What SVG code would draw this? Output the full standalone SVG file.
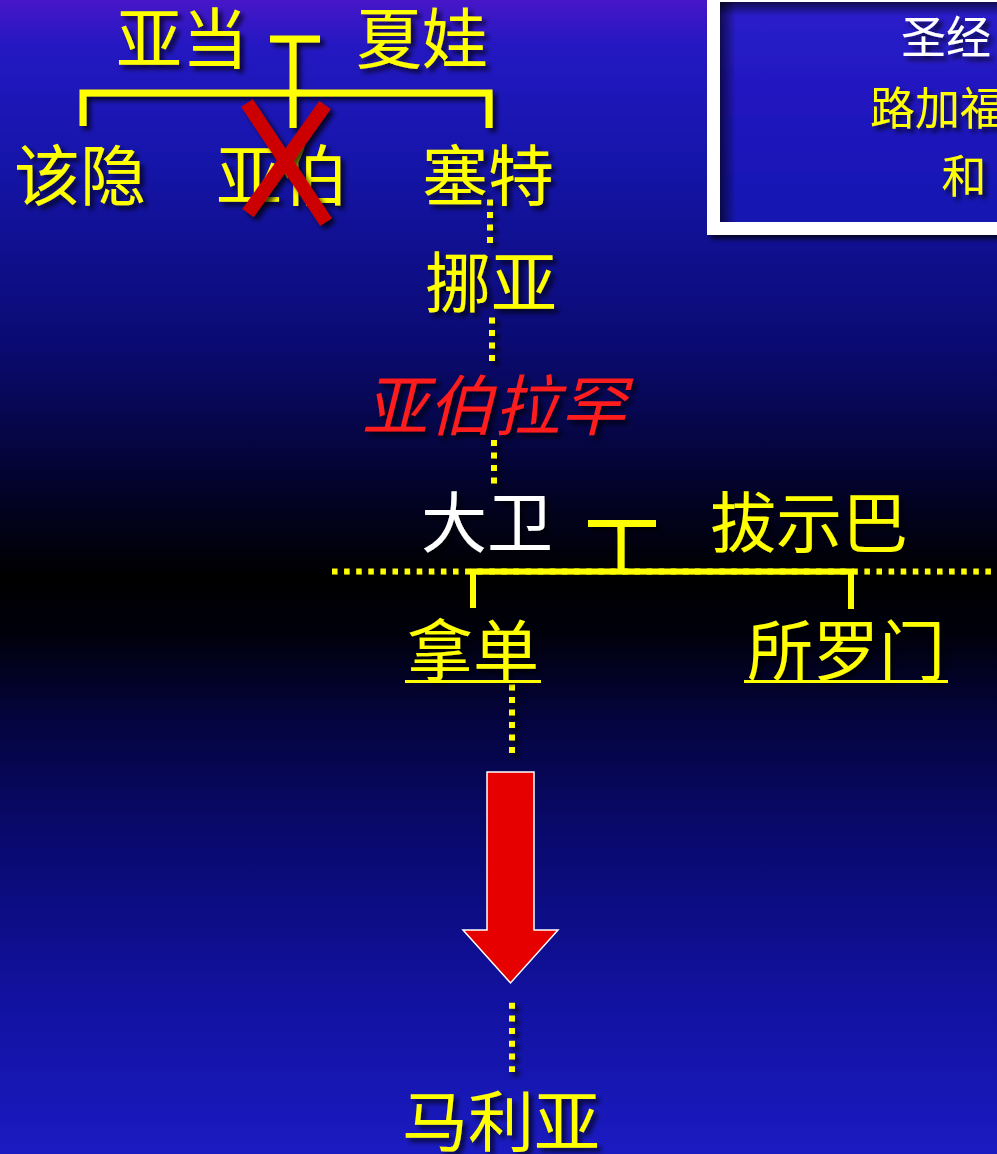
<svg xmlns="http://www.w3.org/2000/svg" width="997" height="1154" viewBox="0 0 997 1154">
  <defs>
    <linearGradient id="bg" x1="0" y1="0" x2="0" y2="1">
      <stop offset="0" stop-color="#4716c8"/>
      <stop offset="0.04" stop-color="#2418c2"/>
      <stop offset="0.14" stop-color="#1515aa"/>
      <stop offset="0.3" stop-color="#0a0a72"/>
      <stop offset="0.42" stop-color="#03032c"/>
      <stop offset="0.5" stop-color="#000000"/>
      <stop offset="0.55" stop-color="#00000c"/>
      <stop offset="0.62" stop-color="#04043c"/>
      <stop offset="0.72" stop-color="#09096c"/>
      <stop offset="0.86" stop-color="#11119e"/>
      <stop offset="1" stop-color="#1b1bc2"/>
    </linearGradient>
    <linearGradient id="boxfill" x1="0" y1="0" x2="0" y2="1">
      <stop offset="0" stop-color="#2c1ccc"/>
      <stop offset="1" stop-color="#1414b0"/>
    </linearGradient>
    <linearGradient id="shadeL" x1="0" y1="0" x2="1" y2="0">
      <stop offset="0" stop-color="#000" stop-opacity="0.6"/>
      <stop offset="1" stop-color="#000" stop-opacity="0"/>
    </linearGradient>
    <linearGradient id="shadeT" x1="0" y1="0" x2="0" y2="1">
      <stop offset="0" stop-color="#000" stop-opacity="0.6"/>
      <stop offset="1" stop-color="#000" stop-opacity="0"/>
    </linearGradient>
    <filter id="sh" x="-20%" y="-20%" width="140%" height="140%">
      <feDropShadow dx="4" dy="4" stdDeviation="2.5" flood-color="#000" flood-opacity="0.75"/>
    </filter>
    <style>
      text { font-family: "Noto Sans CJK SC", "Noto Sans", sans-serif; text-anchor: middle; }
      .big { font-size: 66px; }
      .box { font-size: 45px; }
      .y { fill: #ffff00; }
      .w { fill: #ffffff; }
      .r { fill: #ff1c1c; font-style: italic; }
      .solid { fill: none; stroke: #ffff00; stroke-width: 7; stroke-linejoin: miter; }
      .dots { fill: none; stroke: #ffff00; stroke-width: 6; stroke-dasharray: 6 6.5; }
      .hdots { fill: none; stroke: #ffff00; stroke-width: 6; stroke-dasharray: 5.5 6.6; }
      .ul { stroke: #ffff00; stroke-width: 3; }
    </style>
  </defs>

  <rect x="0" y="0" width="997" height="1154" fill="url(#bg)"/>

  <!-- info box -->
  <g id="infobox">
    <rect x="713.5" y="-4.5" width="300" height="233" fill="url(#boxfill)" stroke="#ffffff" stroke-width="13" filter="url(#sh)"/>
    <rect x="720" y="2" width="16" height="220" fill="url(#shadeL)"/>
    <rect x="720" y="2" width="290" height="14" fill="url(#shadeT)"/>
    <text class="box w" x="946" y="54" filter="url(#sh)">圣经</text>
    <text class="box y" x="938" y="125" style="text-anchor:start" transform="translate(-68,0)" filter="url(#sh)">路加福</text>
    <text class="box y" x="964" y="193" filter="url(#sh)">和</text>
  </g>

  <!-- connectors -->
  <g id="connectors" filter="url(#sh)">
    <path class="solid" d="M270,39 H320 M293,39 V128"/>
    <path class="solid" d="M83,126 V93 H489 V128"/>
    <path class="dots" d="M490,199.5 V243"/>
    <path class="dots" d="M492,317.5 V361"/>
    <path class="dots" d="M494,440 V484"/>
    <path class="hdots" d="M332,571.5 H997"/>
    <path class="solid" d="M588,523.5 H656 M621,523.5 V571"/>
    <path class="solid" style="stroke-width:6" d="M473,608 V571.5 H851 V609"/>
    <path class="dots" d="M512,684.5 V753"/>
    <path class="dots" style="stroke-dasharray:6 6.7" d="M512,1002.7 V1072"/>
  </g>

  <g id="adam"><text class="big y" x="182" y="63" filter="url(#sh)">亚当</text></g>
  <g id="eve"><text class="big y" x="422" y="63" filter="url(#sh)">夏娃</text></g>
  <g id="cain"><text class="big y" x="80" y="200" filter="url(#sh)">该隐</text></g>
  <g id="abel">
    <text class="big y" x="282" y="200" filter="url(#sh)">亚伯</text>
    <g filter="url(#sh)">
      <line x1="247" y1="103" x2="326" y2="222" stroke="#cc0000" stroke-width="14"/>
      <line x1="325" y1="105" x2="248" y2="213" stroke="#cc0000" stroke-width="14"/>
    </g>
  </g>
  <g id="seth"><text class="big y" x="488" y="200" filter="url(#sh)">塞特</text></g>
  <g id="noah"><text class="big y" x="491" y="307" filter="url(#sh)">挪亚</text></g>
  <g id="abraham"><text class="big r" x="494" y="430" filter="url(#sh)">亚伯拉罕</text></g>
  <g id="david"><text class="big w" x="487" y="547" filter="url(#sh)">大卫</text></g>
  <g id="bathsheba"><text class="big y" x="809" y="547" filter="url(#sh)">拔示巴</text></g>
  <g id="nathan">
    <text class="big y" x="473" y="675" filter="url(#sh)">拿单</text>
    <line class="ul" x1="405" y1="681.5" x2="541" y2="681.5"/>
  </g>
  <g id="solomon">
    <text class="big y" x="846" y="675" filter="url(#sh)">所罗门</text>
    <line class="ul" x1="744" y1="681.5" x2="948" y2="681.5"/>
  </g>
  <g id="arrow">
    <polygon points="487,772 534,772 534,930 558,930 510.5,983 463,930 487,930" fill="#e60000" stroke="#ffffff" stroke-width="1.5"/>
  </g>
  <g id="mary"><text class="big y" x="501" y="1146" filter="url(#sh)">马利亚</text></g>
</svg>
